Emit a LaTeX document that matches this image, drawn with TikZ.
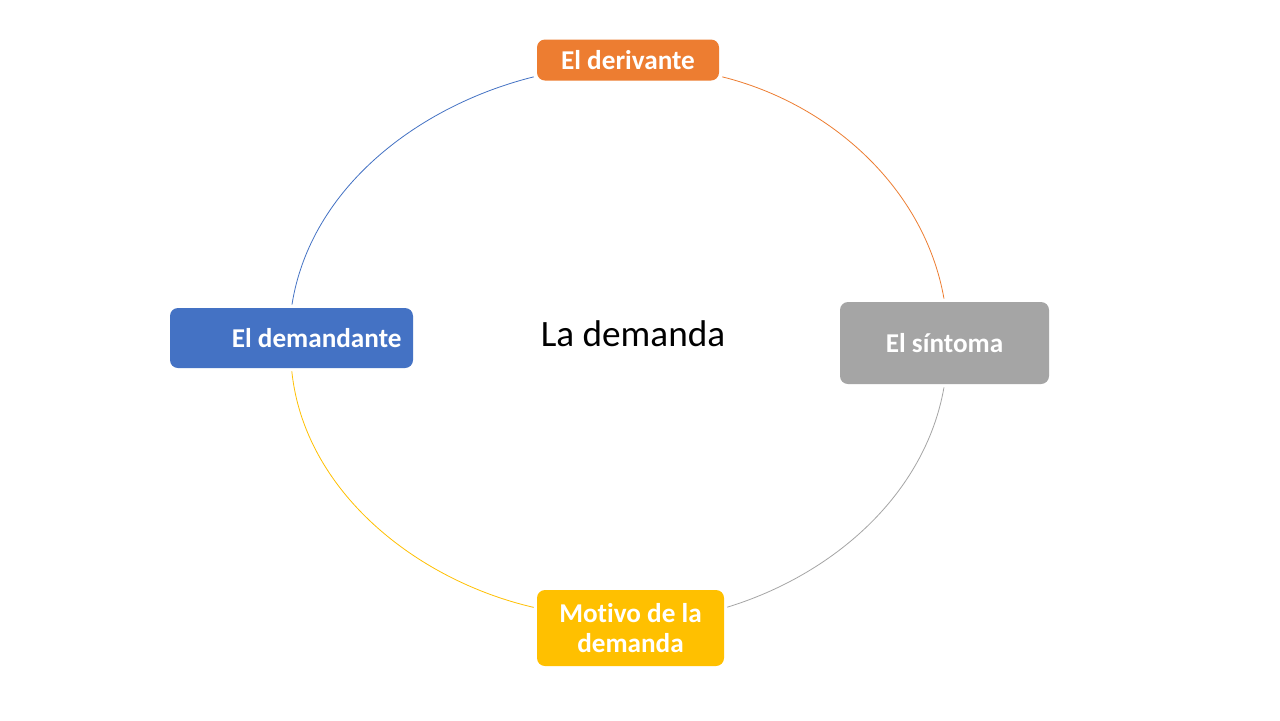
\documentclass[tikz,border=0pt]{standalone}
\usepackage{fontspec}
\setmainfont{Carlito}[Ligatures=NoCommon]
\usepackage{xcolor}
\usetikzlibrary{positioning}
\definecolor{cOrange}{HTML}{ED7D31}
\definecolor{cBlue}{HTML}{4472C4}
\definecolor{cGray}{HTML}{A5A5A5}
\definecolor{cGold}{HTML}{FFC000}
\tikzset{
	block/.style={
		rectangle,
		align=center,
		inner sep=0pt,
		rounded corners=4pt,
		text=white,
		font=\fontsize{13.6}{15}\selectfont\bfseries
	},
	arc/.style={
		line width=0.4pt,
		looseness=0.92,
		shorten <=1.5pt,
		shorten >=1.5pt
	}
}

\begin{document}
\begin{tikzpicture}[x=0.5pt,y=-0.5pt]
		\useasboundingbox[fill=white] (0,0) rectangle (1280,720);
		\draw node[block, fill=cOrange, minimum width=91pt, minimum height=20.5pt] (Derivante) at (628,60) {El derivante};
		\draw node[block, fill=cGray, minimum width=104.5pt, minimum height=41pt] (Sintoma) at (944.5,343) {El síntoma};
		\draw node[block, fill=cGold, minimum width=93.5pt, minimum height=38pt] (Motivo) at (630.5,628) {Motivo de la\\ demanda};
		\draw node[block, fill=cBlue, minimum width=121.5pt, minimum height=30pt, align=flush right, text width=110pt] (Demandante) at (291.5,338) {El demandante};
		\draw node[font=\fontsize{18.6}{22}\selectfont] (Demanda) at (633,334) {La demanda};
		
		\draw [arc, cBlue] (Demandante.north) to[out=81, in=194] (Derivante.190);
		\draw [arc, cOrange] (Derivante.350) to[out=-14, in=100] (Sintoma.north);
		\draw [arc, cGray] (Sintoma.south) to[out=260, in=17] (Motivo.12);
		\draw [arc, cGold] (Motivo.168) to[out=167, in=276] (Demandante.south);
	\end{tikzpicture}
\end{document}
